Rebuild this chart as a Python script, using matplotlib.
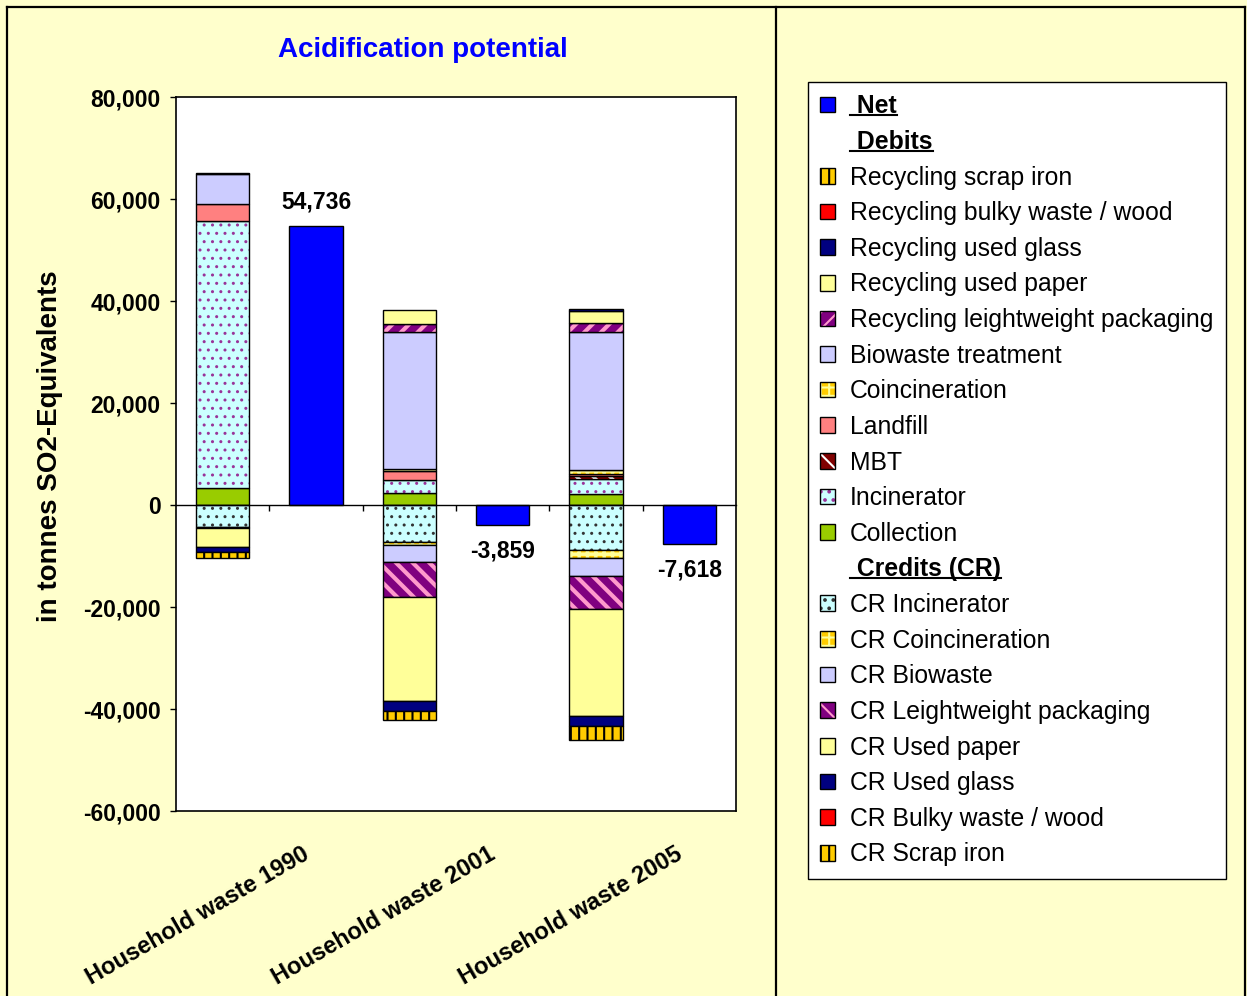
import numpy as np
import matplotlib
matplotlib.use('Agg')
import matplotlib.pyplot as plt
from matplotlib.patches import Patch
from matplotlib.lines import Line2D

plt.rcParams['font.family'] = ['Liberation Sans', 'DejaVu Sans']
plt.rcParams['hatch.linewidth'] = 1.5

# categories: stacked debit/credit bar followed by the net bar
categories = ['Household waste 1990', 'Household waste 2001', 'Household waste 2005']
x_stack = [0, 2, 4]
x_net = [1, 3, 5]

# debits, stacked upward from zero
collection = [3300, 2350, 2160]
incinerator = [52340, 2550, 2940]
mbt = [0, 0, 600]
landfill = [3300, 1760, 300]
coincineration = [0, 400, 800]
biowaste = [5900, 26860, 27060]
rec_lwp = [0, 1570, 1760]
rec_paper = [0, 2750, 2350]
rec_glass = [300, 0, 400]
rec_bulky = [0, 0, 0]
rec_scrap = [0, 0, 0]

# credits, stacked downward from zero
cr_incinerator = [-4300, -7250, -8820]
cr_coincineration = [-200, -600, -1570]
cr_biowaste = [0, -3330, -3530]
cr_lwp = [0, -6860, -6470]
cr_paper = [-3700, -20330, -20890]
cr_glass = [-1000, -1960, -1960]
cr_bulky = [0, 0, 0]
cr_scrap = [-1200, -1760, -2750]

net = [54736, -3859, -7618]

# style: face colour, hatch, hatch colour, hatch width
styles = {
    'scrap': ('#FFCC00', '||', 'black', 1.5),
    'bulky': ('#FF0000', None, None, 0),
    'glass': ('#000080', None, None, 0),
    'paper': ('#FFFF99', None, None, 0),
    'lwp': ('#800080', '//', '#FF99CC', 3.0),
    'cr_lwp': ('#800080', '\\\\', '#FF99CC', 3.0),
    'bio': ('#CCCCFF', None, None, 0),
    'coinc': ('#FFCC00', '++', '#FFFF99', 2.5),
    'landfill': ('#FF8080', None, None, 0),
    'mbt': ('#800000', '\\\\', 'white', 2.5),
    'inc': ('#CCFFFF', '..', '#993399', 1.0),
    'cr_inc': ('#CCFFFF', '..', '#333333', 1.0),
    'coll': ('#99CC00', None, None, 0),
}

debits = [(collection, 'coll'), (incinerator, 'inc'), (mbt, 'mbt'), (landfill, 'landfill'),
          (coincineration, 'coinc'), (biowaste, 'bio'), (rec_lwp, 'lwp'), (rec_paper, 'paper'),
          (rec_glass, 'glass'), (rec_bulky, 'bulky'), (rec_scrap, 'scrap')]
credits = [(cr_incinerator, 'cr_inc'), (cr_coincineration, 'coinc'), (cr_biowaste, 'bio'),
           (cr_lwp, 'cr_lwp'), (cr_paper, 'paper'), (cr_glass, 'glass'), (cr_bulky, 'bulky'),
           (cr_scrap, 'scrap')]

W, H = 1247, 996
bg = '#FFFFCC'
bw = 0.57

fig = plt.figure(figsize=(W / 100, H / 100), dpi=100, facecolor=bg)
ax = fig.add_axes([176 / W, 1 - 811 / H, 560 / W, 714 / H])
ax.set_facecolor('white')


def draw(x, h, b, key):
    face, hatch, hcol, hlw = styles[key]
    x = np.asarray(x)
    h = np.asarray(h, dtype=float)
    b = np.asarray(b, dtype=float)
    m = h != 0
    if not m.any():
        return
    if hatch:
        bars = ax.bar(x[m], h[m], bw, bottom=b[m], color=face, edgecolor=hcol,
                      hatch=hatch, linewidth=0)
        for p in bars:
            if hasattr(p, 'set_hatch_linewidth'):
                p.set_hatch_linewidth(hlw)
        ax.bar(x[m], h[m], bw, bottom=b[m], fill=False, edgecolor='black', linewidth=1)
    else:
        ax.bar(x[m], h[m], bw, bottom=b[m], color=face, edgecolor='black', linewidth=1)


bottom = np.zeros(3)
for vals, key in debits:
    draw(x_stack, vals, bottom, key)
    bottom += np.asarray(vals)
bottom = np.zeros(3)
for vals, key in credits:
    draw(x_stack, vals, bottom, key)
    bottom += np.asarray(vals)

ax.bar(x_net, net, bw, color='#0000FF', edgecolor='black', linewidth=1)
for x, v in zip(x_net, net):
    off = 17 if v > 0 else -19
    ax.annotate(f'{v:,}', xy=(x, v), xytext=(0, off), textcoords='offset points',
                ha='center', va='center', fontsize=16.5, fontweight='bold')

ax.set_xlim(-0.5, 5.5)
ax.set_ylim(-60000, 80000)
ax.set_yticks(np.arange(-60000, 80001, 20000))
ax.set_yticklabels([f'{v:,}' for v in np.arange(-60000, 80001, 20000)],
                   fontsize=16.5, fontweight='bold')
ax.tick_params(axis='y', direction='out', length=4, width=1, pad=7)

# category axis crosses at zero, with tick marks between the bars
ax.spines['bottom'].set_position(('data', 0))
ax.spines['bottom'].set_linewidth(1)
ax.set_xticks([0.5, 1.5, 2.5, 3.5, 4.5])
ax.tick_params(axis='x', direction='out', length=4.5, width=1, labelbottom=False)
ax.plot([0, 1], [0, 0], transform=ax.transAxes, color='black', lw=1.2, clip_on=False)
for s in ['left', 'top', 'right']:
    ax.spines[s].set_linewidth(1.2)

for x, lab in zip(x_net, categories):
    ax.annotate(lab, xy=(x, 0), xycoords=('data', 'axes fraction'), xytext=(-6.5, -30),
                textcoords='offset points', rotation=30, rotation_mode='anchor',
                ha='right', va='center', fontsize=17, fontweight='bold')

fig.text(423 / W, 1 - 50 / H, 'Acidification potential', ha='center', va='center',
         fontsize=20, fontweight='bold', color='#0000FF')
fig.text(50 / W, 1 - 446 / H, 'in tonnes SO2-Equivalents', rotation=90, ha='center',
         va='center', fontsize=20, fontweight='bold')

# legend
def handle(key):
    face, hatch, hcol, hlw = styles[key]
    if hatch:
        return (Patch(facecolor=face, edgecolor=hcol, hatch=hatch, linewidth=0),
                Patch(fill=False, edgecolor='black', linewidth=1))
    return Patch(facecolor=face, edgecolor='black', linewidth=1)

blank = Patch(facecolor='none', edgecolor='none')
legend_items = [
    (Patch(facecolor='#0000FF', edgecolor='black', linewidth=1), ' Net'),
    (blank, ' Debits'),
    (handle('scrap'), 'Recycling scrap iron'),
    (handle('bulky'), 'Recycling bulky waste / wood'),
    (handle('glass'), 'Recycling used glass'),
    (handle('paper'), 'Recycling used paper'),
    (handle('lwp'), 'Recycling leightweight packaging'),
    (handle('bio'), 'Biowaste treatment'),
    (handle('coinc'), 'Coincineration'),
    (handle('landfill'), 'Landfill'),
    (handle('mbt'), 'MBT'),
    (handle('inc'), 'Incinerator'),
    (handle('coll'), 'Collection'),
    (blank, ' Credits (CR)'),
    (handle('cr_inc'), 'CR Incinerator'),
    (handle('coinc'), 'CR Coincineration'),
    (handle('bio'), 'CR Biowaste'),
    (handle('cr_lwp'), 'CR Leightweight packaging'),
    (handle('paper'), 'CR Used paper'),
    (handle('glass'), 'CR Used glass'),
    (handle('bulky'), 'CR Bulky waste / wood'),
    (handle('scrap'), 'CR Scrap iron'),
]
headers = [' Net', ' Debits', ' Credits (CR)']
leg = fig.legend([h for h, _ in legend_items], [l for _, l in legend_items],
                 loc='upper left', bbox_to_anchor=(808 / W, 1 - 82 / H),
                 prop={'size': 17.8}, handlelength=0.6, handleheight=0.6,
                 handletextpad=0.6, borderpad=0.5, labelspacing=0.47,
                 borderaxespad=0, fancybox=False, framealpha=1, facecolor='white',
                 edgecolor='black')
leg.get_frame().set_linewidth(1)
for t in leg.get_texts():
    if t.get_text() in headers:
        t.set_fontweight('bold')

# outer chart border and divider
for xs, ys in [([7, 1245], [7, 7]), ([1245, 1245], [7, H]), ([7, 7], [7, H]),
               ([776, 776], [7, H])]:
    fig.add_artist(Line2D([x / W for x in xs], [1 - y / H for y in ys], color='black', lw=1.6))

# underline the header entries
fig.canvas.draw()
r = fig.canvas.get_renderer()
for t in leg.get_texts():
    if t.get_text() in headers:
        bb = t.get_window_extent(r)
        y = bb.y0 + 3
        fig.add_artist(Line2D([bb.x0 / W, bb.x1 / W], [y / H, y / H], color='black',
                              lw=1.5, zorder=10))

fig.savefig('out.png', dpi=100, facecolor=bg)
